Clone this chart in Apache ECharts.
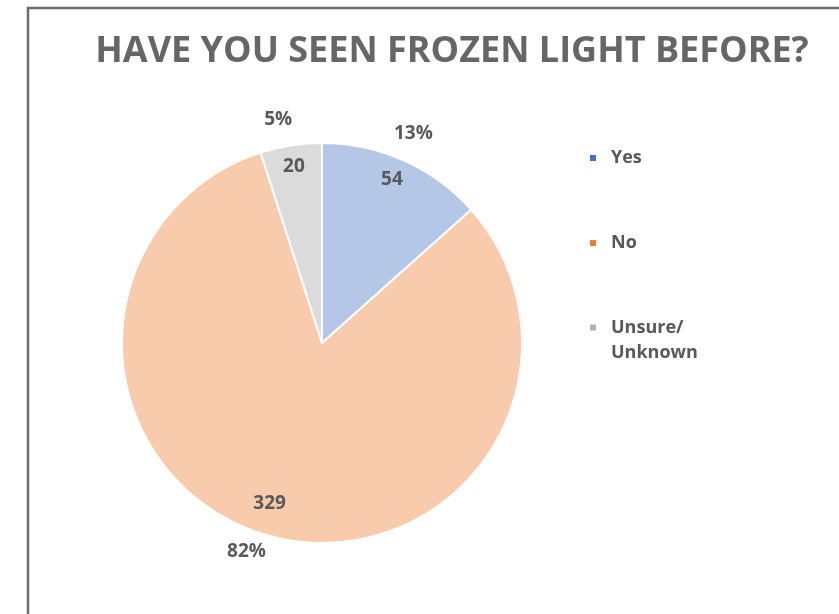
<!DOCTYPE html>
<html>
<head>
<meta charset="utf-8">
<script src="https://cdn.jsdelivr.net/npm/echarts@6/dist/echarts.min.js"></script>
<style>
  html, body { margin: 0; padding: 0; background: #ffffff; }
  #chart { width: 839px; height: 614px; }
</style>
</head>
<body>
<div id="chart"></div>
<script>
// Survey answers
const categories = ['Yes', 'No', 'Unsure/Unknown'];
const counts = [54, 329, 20];
const sliceColors = ['#b4c7e7', '#f8cbad', '#dbdbdb'];
const legendColors = ['#4472c4', '#ed7d31', '#b2b2b2'];
const titleText = 'HAVE YOU SEEN FROZEN LIGHT BEFORE?';

const textGray = '#595959';
const fontFamily = '"Open Sans", "Noto Sans", sans-serif';
const center = [322, 343];

// small nudges so labels clear the slice edges
const countNudges = [[-4, 2], [-5, -14], [0, 2]];
const shareNudges = [[-3, 1], [-15, -14], [-8, 5]];

const sliceData = categories.map((name, i) => ({
  name, value: counts[i], itemStyle: { color: sliceColors[i] }
}));
const labelledData = nudges => categories.map((name, i) => ({
  name, value: counts[i], label: { offset: nudges[i] }
}));

// one legend per entry so each can sit at its own height
const legendTops = [147, 232, 290];
const legends = categories.map((name, i) => {
  const twoLine = name.indexOf('/') >= 0;
  return {
    left: 588,
    top: legendTops[i],
    orient: 'vertical',
    padding: 0,
    itemWidth: 8,
    itemHeight: 8,
    icon: 'rect',
    selectedMode: false,
    data: [{ name, itemStyle: { color: legendColors[i] } }],
    // a leading blank line keeps the first text line level with the marker
    formatter: n => (twoLine ? '\n' : '') + n.replace('/', '/\n'),
    textStyle: {
      color: textGray,
      fontFamily,
      fontWeight: 'bold',
      fontSize: 18,
      lineHeight: twoLine ? 25 : 22,
      padding: [0, 0, 0, 9]
    }
  };
});

const labelBase = {
  color: textGray,
  fontFamily,
  fontWeight: 'bold',
  fontSize: 19,
  rotate: 0
};

const option = {
  backgroundColor: '#ffffff',
  animation: false,
  title: {
    text: titleText,
    left: 447,
    top: 29,
    textAlign: 'center',
    textStyle: {
      color: '#666666',
      fontFamily,
      fontWeight: 'bold',
      fontSize: 36
    }
  },
  legend: legends,
  graphic: [{
    type: 'rect',
    silent: true,
    shape: { x: 28, y: 8, width: 900, height: 700 },
    style: { fill: 'none', stroke: '#6b6b6b', lineWidth: 2.5 }
  }],
  series: [
    {
      // the slices
      type: 'pie',
      center,
      radius: 200,
      startAngle: 90,
      clockwise: true,
      silent: true,
      label: { show: false },
      labelLine: { show: false },
      itemStyle: { borderColor: '#ffffff', borderWidth: 2 },
      emphasis: { disabled: true },
      data: sliceData
    },
    {
      // counts, near the rim inside each slice
      type: 'pie',
      center,
      radius: [160, 196],
      startAngle: 90,
      silent: true,
      itemStyle: { color: 'transparent' },
      label: Object.assign({ show: true, position: 'inside', formatter: '{c}' }, labelBase),
      labelLine: { show: false },
      emphasis: { disabled: true },
      data: labelledData(countNudges)
    },
    {
      // shares, just outside the rim
      type: 'pie',
      center,
      radius: [210, 246],
      startAngle: 90,
      silent: true,
      percentPrecision: 0,
      itemStyle: { color: 'transparent' },
      label: Object.assign({ show: true, position: 'inside', formatter: '{d}%' }, labelBase),
      labelLine: { show: false },
      emphasis: { disabled: true },
      data: labelledData(shareNudges)
    }
  ]
};

const chart = echarts.init(document.getElementById('chart'), null, { renderer: 'canvas' });
chart.setOption(option);
</script>
</body>
</html>
